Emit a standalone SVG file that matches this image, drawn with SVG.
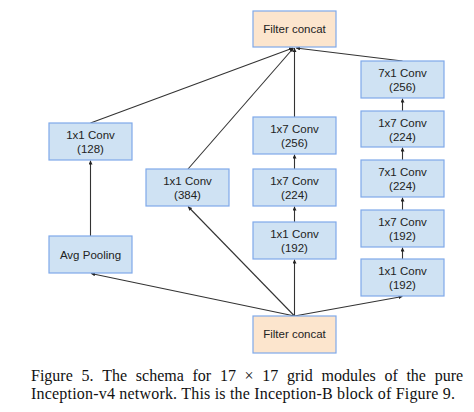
<svg xmlns="http://www.w3.org/2000/svg" width="474" height="412" viewBox="0 0 474 412">
<defs>
<marker id="ah" viewBox="0 0 6 6" refX="6" refY="3" markerWidth="4" markerHeight="4" orient="auto" markerUnits="userSpaceOnUse"><path d="M0,0 L6,3 L0,6 z" fill="#222"/></marker>
<style>
.b{fill:#cfe2f3;stroke:#7fa9ea;stroke-width:1.2}
.c{fill:#fce5cd;stroke:#7fa9ea;stroke-width:1.2}
.t{font-family:"Liberation Sans",Arial,sans-serif;font-size:11.5px;fill:#222;text-anchor:middle}
.e{stroke:#333;stroke-width:1.1;fill:none;marker-end:url(#ah)}
.cap{font-family:"Liberation Serif","Times New Roman",serif;font-size:16px;fill:#111}
</style>
</defs>
<rect width="474" height="412" fill="#fff"/>
<g id="connectors">
<line class="e" x1="294.5" y1="316" x2="91" y2="273.5"/>
<line class="e" x1="294.5" y1="316" x2="188" y2="206.5"/>
<line class="e" x1="294.5" y1="316" x2="294.5" y2="259.5"/>
<line class="e" x1="294.5" y1="316" x2="402.5" y2="296.5"/>
<line class="e" x1="90.5" y1="236" x2="90.5" y2="160.5"/>
<line class="e" x1="294.5" y1="222" x2="294.5" y2="206.5"/>
<line class="e" x1="294.5" y1="169" x2="294.5" y2="154.5"/>
<line class="e" x1="402.5" y1="259" x2="402.5" y2="247.5"/>
<line class="e" x1="402.5" y1="210" x2="402.5" y2="197.5"/>
<line class="e" x1="402.5" y1="160" x2="402.5" y2="147.5"/>
<line class="e" x1="402.5" y1="111" x2="402.5" y2="98.5"/>
<line class="e" x1="90.5" y1="123" x2="293" y2="48"/>
<line class="e" x1="188" y1="169" x2="293.5" y2="48"/>
<line class="e" x1="294.5" y1="117" x2="294.5" y2="48"/>
<line class="e" x1="402.5" y1="61" x2="296" y2="48"/>
</g>
<g id="concat_top"><rect class="c" x="253" y="11" width="83" height="36"/><text class="t" x="294.5" y="33">Filter concat</text></g>
<g id="conv1x1_128"><rect class="b" x="49" y="123" width="83" height="37"/><text class="t" x="90.5" y="139">1x1 Conv</text><text class="t" x="90.5" y="153">(128)</text></g>
<g id="avgpool"><rect class="b" x="49" y="236" width="83" height="37"/><text class="t" x="90.5" y="259">Avg Pooling</text></g>
<g id="conv1x1_384"><rect class="b" x="146" y="169" width="83" height="37"/><text class="t" x="187.5" y="185">1x1 Conv</text><text class="t" x="187.5" y="199">(384)</text></g>
<g id="conv1x7_256"><rect class="b" x="253" y="117" width="83" height="37"/><text class="t" x="294.5" y="133">1x7 Conv</text><text class="t" x="294.5" y="147">(256)</text></g>
<g id="conv1x7_224a"><rect class="b" x="253" y="169" width="83" height="37"/><text class="t" x="294.5" y="185">1x7 Conv</text><text class="t" x="294.5" y="199">(224)</text></g>
<g id="conv1x1_192a"><rect class="b" x="253" y="222" width="83" height="37"/><text class="t" x="294.5" y="238">1x1 Conv</text><text class="t" x="294.5" y="252">(192)</text></g>
<g id="conv7x1_256"><rect class="b" x="361" y="61" width="83" height="37"/><text class="t" x="402.5" y="77">7x1 Conv</text><text class="t" x="402.5" y="91">(256)</text></g>
<g id="conv1x7_224b"><rect class="b" x="361" y="111" width="83" height="36"/><text class="t" x="402.5" y="127">1x7 Conv</text><text class="t" x="402.5" y="141">(224)</text></g>
<g id="conv7x1_224"><rect class="b" x="361" y="160" width="83" height="37"/><text class="t" x="402.5" y="176">7x1 Conv</text><text class="t" x="402.5" y="190">(224)</text></g>
<g id="conv1x7_192"><rect class="b" x="361" y="210" width="83" height="37"/><text class="t" x="402.5" y="226">1x7 Conv</text><text class="t" x="402.5" y="240">(192)</text></g>
<g id="conv1x1_192b"><rect class="b" x="361" y="259" width="83" height="37"/><text class="t" x="402.5" y="275">1x1 Conv</text><text class="t" x="402.5" y="289">(192)</text></g>
<g id="concat_bottom"><rect class="c" x="253" y="316" width="83" height="37"/><text class="t" x="294.5" y="338">Filter concat</text></g>
<g id="caption">
<text class="cap" y="381"><tspan x="31">Figure</tspan><tspan x="81.5">5.</tspan><tspan x="102.2">The</tspan><tspan x="135.8">schema</tspan><tspan x="192.5">for</tspan><tspan x="219.9">17</tspan><tspan x="244.6">×</tspan><tspan x="262.3">17</tspan><tspan x="287">grid</tspan><tspan x="321.5">modules</tspan><tspan x="384.4">of</tspan><tspan x="406.4">the</tspan><tspan x="434.7">pure</tspan></text>
<text class="cap" x="31" y="399" textLength="424" lengthAdjust="spacing">Inception-v4 network. This is the Inception-B block of Figure 9.</text>
</g>
</svg>
